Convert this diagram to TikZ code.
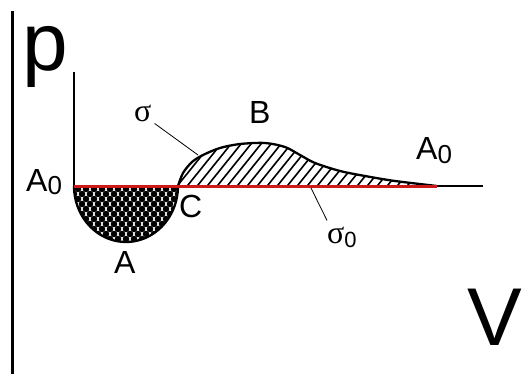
\documentclass[tikz,border=0pt]{standalone}
\usepackage{fontspec}
\setmainfont{Liberation Sans}
\newfontfamily\seriffont{Liberation Serif}
\definecolor{linered}{RGB}{205,25,25}
\begin{document}
\begin{tikzpicture}[x=1pt,y=-1pt,
  lbl/.style={inner sep=0pt, anchor=base west, font=\fontsize{32}{32}\selectfont},
  big/.style={inner sep=0pt, anchor=base west, font=\fontsize{82}{82}\selectfont},
  sig/.style={inner sep=0pt, anchor=base west, font=\seriffont\fontsize{32}{32}\selectfont},
  outline/.style={line width=2.3pt, black},
  leader/.style={line width=0.8pt, black},
  hatch/.style={line width=1.6pt, black}]
\useasboundingbox (0,0) rectangle (524,374);
\fill[white] (0,0) rectangle (524,374);
% axis
\draw[line width=3pt] (12,11) -- (12,374);
% key points
\coordinate (top) at (74,72);
\coordinate (O) at (74,186);
\coordinate (C) at (178,186);
\coordinate (E) at (437,186);
\coordinate (R) at (483,186);
% bowl (dotted region)
\begin{scope}
\clip plot[domain=180:360, samples=50] ({126+52*cos(\x)},{186-56*sin(\x)}) -- cycle;
\foreach \r in {0,...,11}{
  \foreach \c in {0,...,14}{
    \fill ({70+\c*8+mod(\r,2)*4},{189+\r*5}) circle (3.3pt);
  }
}
\end{scope}
% hump (hatched region)
\begin{scope}
\clip plot[smooth] coordinates {(178,186) (183,173) (192,162) (203,155) (220,148) (240,144) (265,143) (285,147) (300,155) (315,163) (340,171) (365,176) (395,181) (437,186)} -- cycle;
\foreach \i in {0,...,32} \draw[hatch] ({140+\i*10},195) -- ++(45,-56);
\end{scope}
\draw[outline] plot[smooth] coordinates {(178,186) (183,173) (192,162) (203,155) (220,148) (240,144) (265,143) (285,147) (300,155) (315,163) (340,171) (365,176) (395,181) (437,186)};
\draw[outline] (top) -- (O);
\draw[outline] plot[domain=180:360, samples=50] ({126+52*cos(\x)},{186-56*sin(\x)});
% baseline
\draw[line width=2pt] (O) -- (R);
\draw[line width=3pt, linered] (O) -- (E);
% labels
\node[big] (p) at (22,71) {p};
\node[big, anchor=base east] (V) at (522,345) {V};
\node[lbl] (A0l) at (26,191) {A\raisebox{-3pt}{\fontsize{26}{26}\selectfont 0}};
\node[lbl] (A0r) at (416,160) {A\raisebox{-4pt}{\fontsize{26}{26}\selectfont 0}};
\node[lbl] (B) at (249,124) {B};
\node[lbl] (Cl) at (179,217) {C};
\node[lbl] (Al) at (114,273) {A};
\node[sig] (s) at (134,122) {σ};
\node[sig] (s0) at (327,243) {σ\raisebox{-4pt}{\rmfamily\fontsize{22}{22}\selectfont 0}};
% leaders
\coordinate (s1) at (198,155);
\coordinate (s2) at (311,188);
\draw[leader] ([shift={(3,1)}]s.south east) -- (s1);
\draw[leader] ([shift={(0,-6)}]s0.north west) -- (s2);
\end{tikzpicture}
\end{document}
